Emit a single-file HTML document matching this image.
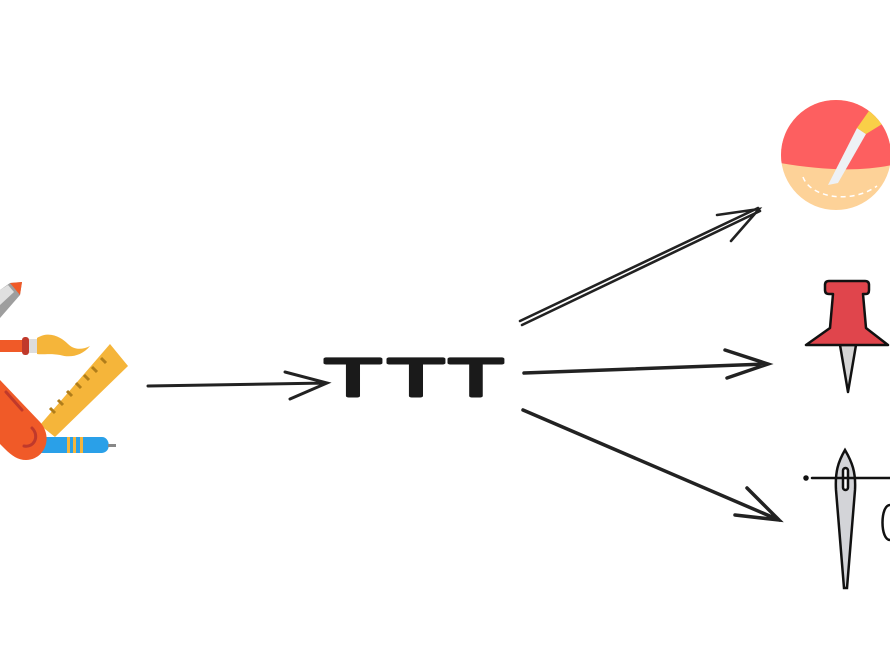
<!DOCTYPE html>
<html><head><meta charset="utf-8"><style>html,body{margin:0;padding:0;background:#fff}svg{display:block}</style></head>
<body>
<svg width="890" height="664" viewBox="0 0 890 664" xmlns="http://www.w3.org/2000/svg">
<rect width="890" height="664" fill="#fff"/>
<g>
  <polygon points="0,290 10,283 22,282 20,295 0,318" fill="#9e9e9e"/>
  <polygon points="10,283 22,282 20,295" fill="#f05a28"/>
  <polygon points="0,290 8,285 14,292 0,305" fill="#e0e0e0"/>
  <rect x="0" y="340" width="26" height="12" fill="#f05a28"/>
  <rect x="22" y="337" width="7" height="18" rx="3" fill="#c0392b"/>
  <rect x="29" y="339" width="8" height="14" fill="#ddd"/>
  <path d="M37,338 C50,330 62,338 68,344 C74,350 82,350 90,346 C82,356 70,358 60,355 C50,353 42,355 37,354 Z" fill="#f5b53a"/>
  <polygon points="110,344 128,366 55,437 40,425" fill="#f5b53a"/>
  <g stroke="#b07d1a" stroke-width="3">
    <line x1="101" y1="358" x2="106" y2="363"/><line x1="92" y1="367" x2="97" y2="372"/>
    <line x1="84" y1="375" x2="89" y2="380"/><line x1="76" y1="383" x2="81" y2="388"/>
    <line x1="67" y1="391" x2="72" y2="396"/><line x1="58" y1="400" x2="63" y2="405"/>
    <line x1="50" y1="408" x2="55" y2="413"/>
  </g>
  <path d="M30,437 L102,437 C110,437 112,452 102,453 L30,453 Z" fill="#2aa0e8"/>
  <rect x="67" y="437" width="3" height="16" fill="#f5b53a"/>
  <rect x="73" y="437" width="3" height="16" fill="#f5b53a"/>
  <rect x="80" y="437" width="3" height="16" fill="#f5b53a"/>
  <rect x="108" y="444" width="8" height="3" fill="#888"/>
  <path d="M0,380 L40,422 C54,438 44,460 26,460 C18,460 12,456 5,449 L0,444 Z" fill="#f05a28"/>
  <path d="M6,392 L22,410 M32,428 C40,436 34,448 24,446" stroke="#c0392b" stroke-width="3" fill="none" stroke-linecap="round"/>
</g>
<g stroke="#222" stroke-linecap="round" fill="none">
  <path d="M148,386 L327,383 M285,372 L327,383 L290,399" stroke-width="3"/>
  <path d="M520,321 L758,208 M522,325 L760,211 M717,215 L759,209 L731,241" stroke-width="2.6"/>
  <path d="M524,373 L768,364 M725,350 L768,364 L727,378" stroke-width="3.5"/>
  <path d="M523,410 L779,520 M747,488 L779,520 L735,515" stroke-width="3.5"/>
</g>
<g font-family="Liberation Sans, sans-serif" font-size="54" fill="#1a1a1a" stroke="#1a1a1a" stroke-width="3" stroke-linejoin="round" lengthAdjust="spacingAndGlyphs">
  <text x="324" y="396" textLength="58" lengthAdjust="spacingAndGlyphs">T</text>
  <text x="387" y="396" textLength="58" lengthAdjust="spacingAndGlyphs">T</text>
  <text x="448" y="396" textLength="56" lengthAdjust="spacingAndGlyphs">T</text>
</g>
<defs><clipPath id="c"><circle cx="836" cy="155" r="55"/></clipPath></defs>
<g clip-path="url(#c)">
  <rect x="780" y="90" width="112" height="130" fill="#fdd298"/>
  <path d="M780,90 H892 V165 C860,172 820,170 780,163 Z" fill="#fd5f60"/>
  <path d="M803,177 C810,197 850,205 877,186" stroke="#fff" stroke-width="1.5" stroke-dasharray="5,4" fill="none"/>
  <polygon points="828,185 857,128 866,134 838,183" fill="#eef1f5"/>
  <polygon points="857,128 878,98 892,106 892,118 866,134" fill="#f9cf48"/>
</g>
<g stroke="#111" stroke-width="2.5" stroke-linejoin="round">
  <polygon points="840,345 856,345 848,392" fill="#d5d5d5"/>
  <path d="M806,345 L888,345 L866,328 L863,294 L866,294 Q869,294 869,290 L869,285 Q869,281 865,281 L829,281 Q825,281 825,285 L825,290 Q825,294 829,294 L833,294 L830,328 Z" fill="#e0454c"/>
</g>
<g stroke="#111" stroke-width="2.5" fill="none" stroke-linecap="round">
  <path d="M845,450 C852,462 856,472 855,490 L847,588 L844,588 L836,490 C835,472 838,462 845,450 Z" fill="#d3d4d8"/>
  <rect x="843" y="468" width="5" height="22" rx="2.5" fill="#fff"/>
  <line x1="812" y1="478" x2="890" y2="478"/>
  <circle cx="806" cy="478" r="1.5" fill="#111"/>
  <path d="M890,505 C880,505 880,540 890,540"/>
</g>
</svg>
</body></html>
